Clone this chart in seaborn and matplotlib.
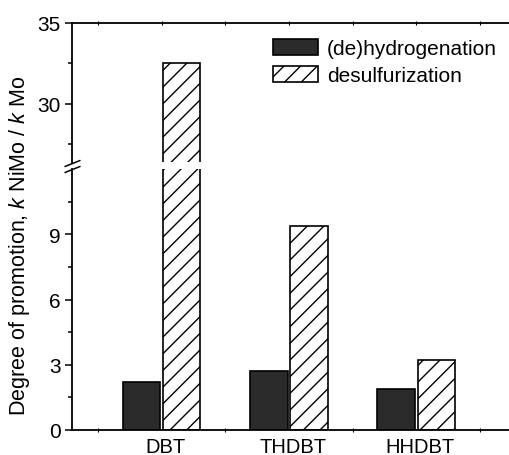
import matplotlib
matplotlib.use("Agg")
import matplotlib.pyplot as plt
import matplotlib.transforms as mtransforms
from matplotlib.ticker import FixedLocator, NullFormatter
import seaborn as sns
import pandas as pd

# ---- data ----
categories = ["DBT", "THDBT", "HHDBT"]
hydrogenation = [2.2, 2.7, 1.9]
desulfurization = [32.5, 9.4, 3.2]
series_names = ["(de)hydrogenation", "desulfurization"]

df = pd.DataFrame({
    "compound": categories * 2,
    "value": hydrogenation + desulfurization,
    "reaction": [series_names[0]] * 3 + [series_names[1]] * 3,
})

sns.set_style("ticks")
plt.rcParams["font.family"] = ["Liberation Sans", "DejaVu Sans"]
plt.rcParams["mathtext.fontset"] = "custom"
plt.rcParams["mathtext.rm"] = "Liberation Sans"
plt.rcParams["mathtext.it"] = "Liberation Sans:italic"
plt.rcParams["hatch.linewidth"] = 1.0
plt.rcParams["text.color"] = "black"
plt.rcParams["axes.edgecolor"] = "black"
plt.rcParams["xtick.color"] = "black"
plt.rcParams["ytick.color"] = "black"
plt.rcParams["axes.labelcolor"] = "black"

W, H = 509, 456
fig = plt.figure(figsize=(W / 100, H / 100), dpi=100)

left = 72 / W
right = 1.0
ax_up = fig.add_axes([left, 1 - 163 / H, right - left, 139 / H])
ax_lo = fig.add_axes([left, 1 - 431 / H, right - left, 261 / H])

dark = "#2b2b2b"
FS = 15
for ax in (ax_up, ax_lo):
    sns.barplot(data=df, x="compound", y="value", hue="reaction",
                palette=[dark, "white"], saturation=1,
                edgecolor="black", linewidth=1.2,
                width=0.63, gap=0.07, legend=False, ax=ax)
    for bar in ax.containers[1]:
        bar.set_hatch("//")
    ax.set_xlim(-0.705, 2.73)
    ax.set_xlabel("")
    ax.set_ylabel("")
    for s in ax.spines.values():
        s.set_linewidth(1.3)
    ax.spines["right"].set_visible(False)
    ax.tick_params(axis="y", which="major", direction="out", length=5,
                   width=1.1, labelsize=FS, pad=3)
    ax.tick_params(axis="y", which="minor", direction="out", length=3, width=1.1)

# upper axes
ax_up.set_ylim(26.4, 35)
ax_up.yaxis.set_major_locator(FixedLocator([30, 35]))
ax_up.yaxis.set_minor_locator(FixedLocator([27.5, 32.5]))
ax_up.spines["bottom"].set_visible(False)
ax_up.xaxis.set_major_locator(FixedLocator([-0.5, 0, 0.5, 1, 1.5, 2, 2.5]))
ax_up.xaxis.set_major_formatter(NullFormatter())
ax_up.tick_params(axis="x", which="both", bottom=False, top=True,
                  labelbottom=False, direction="inout", length=2.5, width=0.8)

# lower axes
ax_lo.set_ylim(0, 12)
ax_lo.yaxis.set_major_locator(FixedLocator([0, 3, 6, 9]))
ax_lo.yaxis.set_minor_locator(FixedLocator([1.5, 4.5, 7.5, 10.5]))
ax_lo.spines["top"].set_visible(False)
ax_lo.set_xticks(range(len(categories)))
ax_lo.set_xticklabels(categories)
ax_lo.tick_params(axis="x", which="major", length=0, labelsize=14.5, pad=5)
ax_lo.xaxis.set_minor_locator(FixedLocator([-0.5, 0.5, 1.5, 2.5]))
ax_lo.tick_params(axis="x", which="minor", direction="inout", length=2.5, width=0.8)
offset = mtransforms.ScaledTranslation(4 / 100, 0, fig.dpi_scale_trans)
for lab in ax_lo.get_xticklabels():
    lab.set_transform(lab.get_transform() + offset)

# break marks on the left spine
def pix(x, y):
    return x / W, 1 - y / H
for yc in (164.5, 170.5):
    x0, y0 = pix(65, yc + 3)
    x1, y1 = pix(80, yc - 3)
    fig.add_artist(plt.Line2D([x0, x1], [y0, y1], color="black", lw=1.1))

# y label
fig.text(20 / W, 1 - 246 / H, "Degree of promotion, $k$ NiMo / $k$ Mo",
         rotation=90, ha="center", va="center", fontsize=15.5)

# legend
handles = [ax_up.containers[0][0], ax_up.containers[1][0]]
fig.legend(handles, series_names, loc="upper left",
           bbox_to_anchor=pix(273, 40), bbox_transform=fig.transFigure,
           frameon=False, fontsize=FS, handlelength=2.15, handleheight=0.82,
           handletextpad=0.43, labelspacing=0.36, borderpad=0, borderaxespad=0)

fig.savefig("out.png", dpi=100)
